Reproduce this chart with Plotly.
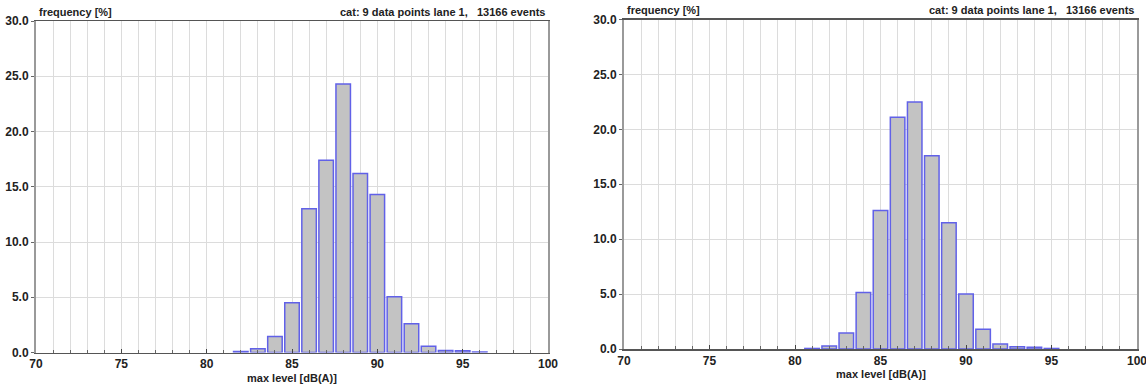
import plotly.graph_objects as go

# data
left_levels = [82, 83, 84, 85, 86, 87, 88, 89, 90, 91, 92, 93, 94, 95, 96]
left_freq = [0.08, 0.33, 1.45, 4.5, 13.0, 17.4, 24.3, 16.2, 14.3, 5.05, 2.6, 0.57, 0.18, 0.15, 0.05]
right_levels = [81, 82, 83, 84, 85, 86, 87, 88, 89, 90, 91, 92, 93, 94, 95]
right_freq = [0.05, 0.28, 1.45, 5.15, 12.6, 21.1, 22.5, 17.6, 11.5, 5.0, 1.8, 0.45, 0.2, 0.15, 0.05]
x_ticks = [70, 75, 80, 85, 90, 95, 100]
y_ticks = [0, 5, 10, 15, 20, 25, 30]
y_title = "frequency [%]"
x_title = "max level [dB(A)]"
info = "cat: 9 data points lane 1,\u00a0\u00a0 13166 events"

W, H = 1146, 385
FONT = "Liberation Sans, Arial, sans-serif"
bar_fill = "#c3c3c3"
bar_line = "#6161e8"

fig = go.Figure()
fig.add_trace(go.Bar(x=left_levels, y=left_freq, width=0.85, xaxis="x", yaxis="y",
                     marker=dict(color=bar_fill, line=dict(color=bar_line, width=1.5)),
                     showlegend=False))
fig.add_trace(go.Bar(x=right_levels, y=right_freq, width=0.85, xaxis="x2", yaxis="y2",
                     marker=dict(color=bar_fill, line=dict(color=bar_line, width=1.5)),
                     showlegend=False))

def px_x(p):
    return p / W

def px_y(p):
    return 1 - p / H

def xaxis(domain, anchor):
    return dict(domain=domain, anchor=anchor, range=[70, 100], tickvals=x_ticks,
                ticks="inside", ticklen=4, tickcolor="#444", automargin=False,
                ticklabeloverflow="allow",
                showline=True, linecolor="#555", linewidth=1.5, mirror=True,
                showgrid=True, gridcolor="#dcdcdc", gridwidth=1,
                minor=dict(dtick=1, showgrid=True, gridcolor="#dcdcdc", ticks="inside",
                           ticklen=3, tickcolor="#666"),
                tickfont=dict(family=FONT, size=12, color="#222", weight="bold"),
                zeroline=False, fixedrange=True)

def yaxis(domain, anchor):
    return dict(domain=domain, anchor=anchor, range=[0, 30], tickvals=y_ticks,
                tickformat=".1f", ticks="outside", ticklen=3, tickcolor="#666",
                automargin=False,
                showline=True, linecolor="#9a9a9a", linewidth=2, mirror=True,
                showgrid=True, gridcolor="#dcdcdc", gridwidth=1,
                tickfont=dict(family=FONT, size=12, color="#222", weight="bold"),
                zeroline=False, fixedrange=True)

L = (36, 548, 21, 352.5)
R = (624, 1137, 19.5, 349)

fig.update_layout(
    width=W, height=H,
    margin=dict(l=0, r=0, t=0, b=0, autoexpand=False),
    paper_bgcolor="white", plot_bgcolor="white",
    bargap=0,
    xaxis=xaxis([px_x(L[0]), px_x(L[1])], "y"),
    yaxis=yaxis([px_y(L[3]), px_y(L[2])], "x"),
    xaxis2=xaxis([px_x(R[0]), px_x(R[1])], "y2"),
    yaxis2=yaxis([px_y(R[3]), px_y(R[2])], "x2"),
)

annots = []
for (x0, x1, yt, yb) in (L, R):
    annots.append(dict(text=y_title, x=px_x(x0 + 1), y=px_y(yt - 1), xref="paper", yref="paper",
                       xanchor="left", yanchor="bottom", showarrow=False,
                       font=dict(family=FONT, size=11, color="#222", weight="bold")))
    annots.append(dict(text=info, x=px_x(x1 - 1), y=px_y(yt - 1), xref="paper", yref="paper",
                       xanchor="right", yanchor="bottom", showarrow=False,
                       font=dict(family=FONT, size=11, color="#222", weight="bold")))
    annots.append(dict(text=x_title, x=px_x((x0 + x1) / 2), y=px_y(yb + 17), xref="paper", yref="paper",
                       xanchor="center", yanchor="top", showarrow=False,
                       font=dict(family=FONT, size=11, color="#222", weight="bold")))
fig.update_layout(annotations=annots)

fig.write_html("out.html", config={"displayModeBar": False, "staticPlot": True},
               post_script="document.body.style.margin='0';document.body.style.overflow='hidden';")
